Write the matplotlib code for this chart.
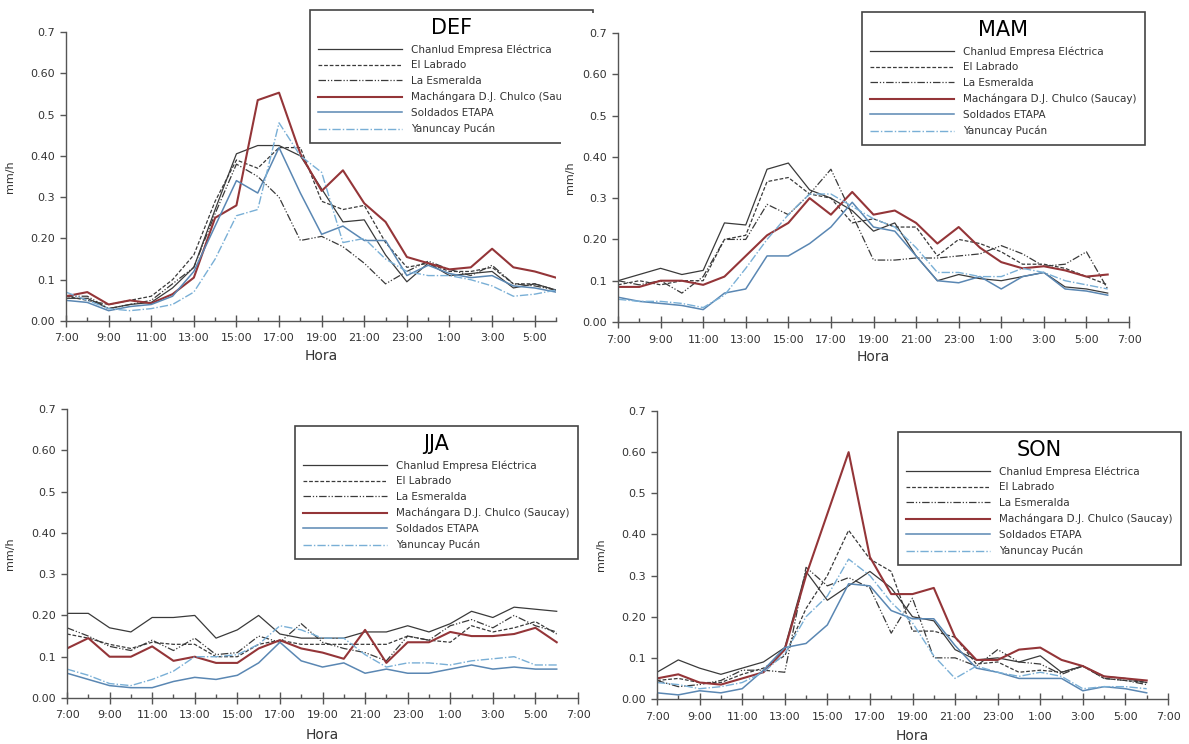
import matplotlib
matplotlib.use("Agg")
import matplotlib.pyplot as plt
from matplotlib.patches import Rectangle

W, H = 1189, 744

HOURS = list(range(24))  # 7:00 ... 6:00
XTICK_POS = list(range(0, 25, 2))
XTICK_LABELS = ["7:00", "9:00", "11:00", "13:00", "15:00", "17:00", "19:00",
                "21:00", "23:00", "1:00", "3:00", "5:00", "7:00"]
YTICKS = [0.0, 0.1, 0.2, 0.3, 0.4, 0.5, 0.6, 0.7]
YTICK_LABELS = ["0.00", "0.1", "0.20", "0.3", "0.40", "0.5", "0.60", "0.7"]

STATIONS = ["Chanlud Empresa Eléctrica", "El Labrado", "La Esmeralda",
            "Machángara D.J. Chulco (Saucay)", "Soldados ETAPA", "Yanuncay Pucán"]

# order of rows = STATIONS
DEF = [
    [0.055, 0.055, 0.030, 0.040, 0.045, 0.080, 0.130, 0.270, 0.405, 0.425, 0.425, 0.400,
     0.320, 0.240, 0.245, 0.160, 0.095, 0.140, 0.110, 0.115, 0.120, 0.080, 0.090, 0.075],
    [0.060, 0.050, 0.040, 0.050, 0.060, 0.100, 0.160, 0.290, 0.390, 0.370, 0.420, 0.420,
     0.290, 0.270, 0.280, 0.190, 0.130, 0.140, 0.120, 0.120, 0.130, 0.090, 0.090, 0.075],
    [0.060, 0.060, 0.030, 0.040, 0.050, 0.090, 0.130, 0.260, 0.380, 0.350, 0.300, 0.195,
     0.205, 0.180, 0.140, 0.090, 0.120, 0.145, 0.125, 0.110, 0.135, 0.090, 0.085, 0.075],
    [0.060, 0.070, 0.040, 0.050, 0.043, 0.065, 0.105, 0.250, 0.280, 0.535, 0.553, 0.405,
     0.315, 0.365, 0.285, 0.240, 0.155, 0.140, 0.125, 0.130, 0.175, 0.130, 0.120, 0.105],
    [0.050, 0.045, 0.025, 0.035, 0.040, 0.060, 0.120, 0.230, 0.340, 0.310, 0.420, 0.310,
     0.210, 0.230, 0.195, 0.195, 0.110, 0.135, 0.115, 0.105, 0.110, 0.085, 0.080, 0.070],
    [0.070, 0.050, 0.030, 0.025, 0.030, 0.040, 0.070, 0.150, 0.255, 0.270, 0.480, 0.400,
     0.360, 0.190, 0.200, 0.150, 0.120, 0.110, 0.110, 0.100, 0.085, 0.060, 0.065, 0.075],
]
MAM = [
    [0.100, 0.115, 0.130, 0.115, 0.125, 0.240, 0.235, 0.370, 0.385, 0.320, 0.300, 0.270,
     0.220, 0.240, 0.160, 0.100, 0.115, 0.105, 0.100, 0.110, 0.120, 0.085, 0.080, 0.070],
    [0.090, 0.100, 0.090, 0.100, 0.100, 0.200, 0.210, 0.340, 0.350, 0.310, 0.300, 0.240,
     0.250, 0.230, 0.230, 0.160, 0.200, 0.190, 0.170, 0.140, 0.140, 0.130, 0.110, 0.090],
    [0.100, 0.090, 0.100, 0.070, 0.110, 0.200, 0.200, 0.285, 0.260, 0.310, 0.370, 0.260,
     0.150, 0.150, 0.155, 0.155, 0.160, 0.165, 0.185, 0.165, 0.135, 0.140, 0.170, 0.080],
    [0.085, 0.085, 0.100, 0.100, 0.090, 0.110, 0.160, 0.210, 0.240, 0.300, 0.260, 0.315,
     0.260, 0.270, 0.240, 0.190, 0.230, 0.180, 0.145, 0.130, 0.135, 0.125, 0.110, 0.115],
    [0.060, 0.050, 0.045, 0.040, 0.030, 0.070, 0.080, 0.160, 0.160, 0.190, 0.230, 0.290,
     0.230, 0.220, 0.160, 0.100, 0.095, 0.110, 0.080, 0.110, 0.120, 0.080, 0.075, 0.065],
    [0.055, 0.050, 0.050, 0.045, 0.035, 0.065, 0.130, 0.200, 0.260, 0.310, 0.310, 0.280,
     0.250, 0.230, 0.180, 0.120, 0.120, 0.110, 0.110, 0.130, 0.120, 0.100, 0.090, 0.080],
]
JJA = [
    [0.205, 0.205, 0.170, 0.160, 0.195, 0.195, 0.200, 0.145, 0.165, 0.200, 0.155, 0.145,
     0.145, 0.145, 0.160, 0.160, 0.175, 0.160, 0.180, 0.210, 0.195, 0.220, 0.215, 0.210],
    [0.155, 0.145, 0.130, 0.120, 0.135, 0.130, 0.130, 0.100, 0.100, 0.130, 0.140, 0.130,
     0.130, 0.130, 0.130, 0.130, 0.150, 0.140, 0.135, 0.175, 0.160, 0.170, 0.185, 0.155],
    [0.170, 0.150, 0.125, 0.115, 0.140, 0.115, 0.145, 0.105, 0.110, 0.150, 0.135, 0.180,
     0.135, 0.120, 0.110, 0.090, 0.150, 0.140, 0.175, 0.190, 0.170, 0.200, 0.175, 0.160],
    [0.120, 0.145, 0.100, 0.100, 0.125, 0.090, 0.100, 0.085, 0.085, 0.120, 0.140, 0.120,
     0.110, 0.095, 0.165, 0.085, 0.135, 0.135, 0.160, 0.150, 0.150, 0.155, 0.170, 0.135],
    [0.060, 0.045, 0.030, 0.025, 0.025, 0.040, 0.050, 0.045, 0.055, 0.085, 0.135, 0.090,
     0.075, 0.085, 0.060, 0.070, 0.060, 0.060, 0.070, 0.080, 0.070, 0.075, 0.070, 0.070],
    [0.070, 0.055, 0.035, 0.030, 0.045, 0.065, 0.100, 0.100, 0.105, 0.130, 0.175, 0.165,
     0.145, 0.145, 0.105, 0.075, 0.085, 0.085, 0.080, 0.090, 0.095, 0.100, 0.080, 0.080],
]
SON = [
    [0.065, 0.095, 0.075, 0.060, 0.075, 0.090, 0.125, 0.310, 0.240, 0.275, 0.310, 0.270,
     0.200, 0.190, 0.120, 0.095, 0.100, 0.090, 0.105, 0.065, 0.080, 0.055, 0.050, 0.040],
    [0.045, 0.050, 0.040, 0.040, 0.060, 0.075, 0.105, 0.220, 0.300, 0.410, 0.340, 0.310,
     0.165, 0.165, 0.150, 0.085, 0.090, 0.065, 0.070, 0.065, 0.080, 0.050, 0.045, 0.040],
    [0.045, 0.030, 0.035, 0.045, 0.070, 0.070, 0.065, 0.320, 0.275, 0.295, 0.270, 0.160,
     0.245, 0.100, 0.100, 0.080, 0.120, 0.090, 0.085, 0.060, 0.080, 0.050, 0.045, 0.035],
    [0.050, 0.060, 0.040, 0.035, 0.050, 0.065, 0.120, 0.300, 0.450, 0.600, 0.345, 0.255,
     0.255, 0.270, 0.150, 0.095, 0.095, 0.120, 0.125, 0.095, 0.080, 0.055, 0.050, 0.045],
    [0.015, 0.010, 0.020, 0.015, 0.025, 0.070, 0.125, 0.135, 0.180, 0.280, 0.275, 0.215,
     0.195, 0.195, 0.130, 0.075, 0.065, 0.050, 0.050, 0.050, 0.020, 0.030, 0.025, 0.015],
    [0.040, 0.035, 0.025, 0.030, 0.040, 0.065, 0.110, 0.200, 0.250, 0.340, 0.300, 0.235,
     0.185, 0.105, 0.050, 0.080, 0.065, 0.055, 0.065, 0.055, 0.025, 0.030, 0.030, 0.025],
]

ESTILOS = [
    dict(color="#3a3a3a", lw=0.9, ls="-"),
    dict(color="#3a3a3a", lw=0.9, ls=(0, (3, 1.5))),
    dict(color="#3a3a3a", lw=0.9, ls=(0, (6, 1.5, 1, 1.5, 1, 1.5))),
    dict(color="#943538", lw=1.5, ls="-"),
    dict(color="#5a87b3", lw=1.1, ls="-"),
    dict(color="#79afd6", lw=1.0, ls=(0, (6, 1.5, 1, 1.5))),
]


def ejes(fig, left, top, right, bottom):
    return fig.add_axes([left / W, 1 - bottom / H, (right - left) / W, (bottom - top) / H])


def panel(ax, datos, titulo, xmax, leg_xy, ylab_x, hora_x, hora_y):
    for serie, nombre, est in zip(datos, STATIONS, ESTILOS):
        ax.plot(HOURS, serie, label=nombre, **est)

    ax.set_xticks(XTICK_POS)
    ax.set_xticklabels(XTICK_LABELS)
    ax.set_xticks(range(0, 25), minor=True)
    ax.set_xlim(0, xmax)
    ax.set_yticks(YTICKS)
    ax.set_yticklabels(YTICK_LABELS)
    for i, t in enumerate(ax.get_yticklabels()):
        if i % 2 == 1:
            t.set_fontsize(6)
    ax.set_ylim(0, 0.7)

    for s in ["top", "right"]:
        ax.spines[s].set_visible(False)
    for s in ["left", "bottom"]:
        ax.spines[s].set_color("#555555")
        ax.spines[s].set_linewidth(1.0)
    ax.tick_params(axis="x", which="major", direction="inout", length=8, width=1,
                   color="#555555", labelsize=8, labelcolor="#333333", pad=5)
    ax.tick_params(axis="x", which="minor", direction="in", length=3, width=1, color="#555555")
    ax.tick_params(axis="y", direction="out", length=4, width=1, color="#555555",
                   labelsize=8, labelcolor="#333333", pad=4)

    ax.set_ylabel("mm/h", fontsize=8, color="#333333")
    ax.yaxis.set_label_coords(ylab_x, 0.5)
    ax.set_xlabel("Hora", fontsize=10, color="#333333")
    ax.xaxis.set_label_coords(hora_x, hora_y)

    leg = ax.legend(title=titulo, loc="upper left", bbox_to_anchor=(leg_xy[0] / W, 1 - leg_xy[1] / H),
                    bbox_transform=fig.transFigure, fancybox=False, framealpha=1,
                    edgecolor="#444444", fontsize=7.5, title_fontsize=15, handlelength=8,
                    handletextpad=0.9, borderpad=0.8, labelspacing=0.55, borderaxespad=0)
    leg.get_frame().set_linewidth(1.2)
    for t in leg.get_texts():
        t.set_color("#333333")
    return leg


fig = plt.figure(figsize=(W / 100, H / 100), dpi=100)

ax1 = ejes(fig, 66, 32, 556, 321)
panel(ax1, DEF, "DEF", 23, (310, 10), -0.104, 12 / 23, -0.098)
ax2 = ejes(fig, 618, 33, 1129, 322)
panel(ax2, MAM, "MAM", 24, (862, 12), -0.084, 0.5, -0.098)
ax3 = ejes(fig, 67, 409, 578, 698)
panel(ax3, JJA, "JJA", 24, (295, 426), -0.102, 0.5, -0.104)
ax4 = ejes(fig, 657, 411, 1168, 699)
panel(ax4, SON, "SON", 24, (898, 432), -0.10, 0.5, -0.104)

# the DEF legend box is cut on its right side in the original;
# the mask sits between the DEF axes and the other panels
for ax in (ax2, ax3, ax4):
    ax.set_zorder(2)
fig.patches.append(Rectangle((561 / W, 1 - 152 / H), 40 / W, 139 / H,
                             transform=fig.transFigure, facecolor="white",
                             edgecolor="none", zorder=1))

fig.savefig("out.png", dpi=100)
